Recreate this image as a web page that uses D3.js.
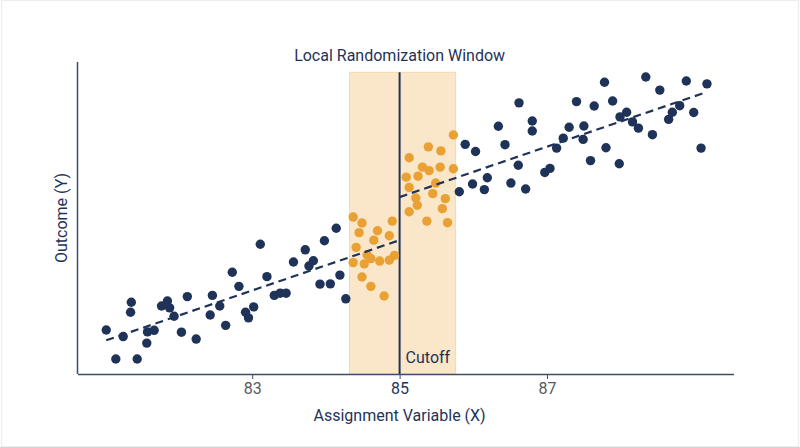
<!DOCTYPE html>
<html>
<head>
<meta charset="utf-8">
<script src="https://cdn.jsdelivr.net/npm/d3@7"></script>
<style>
  body { margin: 0; background: #fff; }
  svg { display: block; font-family: Roboto, sans-serif; }
</style>
</head>
<body>
<svg id="chart" width="800" height="447"></svg>
<script>
var width = 800
var height = 447
var margin = {left: 77.5, right: 66.5, top: 62, bottom: 73}

// points outside the window
var outsideX = [81.02, 81.15, 81.25, 81.35, 81.36, 81.44, 81.57, 81.58, 81.67, 81.77,
  81.85, 81.88, 81.94, 82.04, 82.12, 82.24, 82.43, 82.46, 82.56, 82.64,
  82.73, 82.82, 82.91, 82.95, 83.02, 83.11, 83.20, 83.30, 83.38, 83.46,
  83.56, 83.72, 83.77, 83.83, 83.92, 83.98, 84.06, 84.14, 84.19, 84.27,
  85.81, 85.89, 85.99, 86.03, 86.15, 86.19, 86.34, 86.43, 86.51, 86.61,
  86.62, 86.71, 86.80, 86.80, 86.97, 87.04, 87.13, 87.22, 87.30, 87.40,
  87.49, 87.50, 87.59, 87.64, 87.78, 87.80, 87.89, 87.99, 87.98, 88.08,
  88.16, 88.24, 88.34, 88.43, 88.53, 88.65, 88.70, 88.80, 88.89, 88.99,
  89.09, 89.17]
var outsideY = [14.1, 4.8, 12.0, 19.8, 23.0, 4.8, 9.9, 13.5, 14.0, 21.8,
  23.4, 21.2, 18.5, 13.4, 24.8, 11.2, 18.9, 25.2, 21.8, 15.6,
  32.6, 28.1, 19.8, 18.0, 21.5, 41.6, 31.2, 25.2, 25.9, 25.9,
  35.9, 39.8, 34.6, 36.3, 28.8, 42.7, 28.9, 46.7, 31.7, 24.1,
  58.4, 73.6, 60.9, 71.3, 59.1, 62.9, 79.4, 73.5, 61.2, 66.9,
  86.9, 59.3, 81.1, 77.9, 64.6, 65.9, 72.4, 75.6, 79.1, 87.3,
  75.2, 79.5, 68.4, 85.9, 93.5, 72.5, 87.5, 82.4, 67.4, 83.9,
  80.8, 78.8, 95.2, 76.7, 91.0, 81.6, 83.9, 86.0, 93.9, 83.8,
  72.4, 93.0]

// points inside the local randomization window
var windowX = [84.37, 84.49, 84.90, 84.45, 84.70, 84.65, 84.86, 84.41, 84.56, 84.93,
  84.61, 84.37, 84.52, 84.73, 84.86, 84.49, 84.61, 84.79,
  85.73, 85.39, 85.56, 85.13, 85.31, 85.40, 85.55, 85.73, 85.09, 85.25,
  85.13, 85.49, 85.45, 85.22, 85.62, 85.24, 85.58, 85.13, 85.37, 85.65]
var windowY = [50.3, 48.4, 49.0, 45.3, 45.9, 42.9, 44.3, 40.6, 38.2, 38.0,
  37.0, 35.7, 35.3, 36.2, 36.5, 31.1, 28.1, 25.0,
  76.6, 72.8, 71.5, 69.3, 66.3, 65.2, 66.3, 65.8, 63.1, 63.4,
  59.8, 61.2, 57.8, 56.4, 56.2, 54.1, 53.0, 52.0, 49.0, 48.5]

var cutoff = 85
var windowRange = [84.32, 85.76]
var windowTop = 96.7
var fitLeft = [[81.02, 10.8], [85, 42.9]]
var fitRight = [[85, 56.7], [89.17, 90.4]]
var xTicks = [83, 85, 87]

var navy = "#1f3358"
var orange = "#e9a134"

var svg = d3.select("svg#chart")

svg.append("rect")
    .attr("x", 1.5).attr("y", 0.5)
    .attr("width", width - 3).attr("height", height - 1)
    .attr("fill", "#fff")
    .attr("stroke", "#ececec")

var x = d3.scaleLinear()
    .domain([80.63, 89.53])
    .range([margin.left, width - margin.right])
var y = d3.scaleLinear()
    .domain([0, 100])
    .range([height - margin.bottom, margin.top])

// window band
svg.append("rect")
    .attr("x", x(windowRange[0]))
    .attr("y", y(windowTop))
    .attr("width", x(windowRange[1]) - x(windowRange[0]))
    .attr("height", y(0) - y(windowTop))
    .attr("fill", "#fae6c8")
    .attr("stroke", "#f6d9aa")
    .attr("stroke-width", 1)

svg.append("line")
    .attr("x1", x(cutoff)).attr("x2", x(cutoff))
    .attr("y1", y(windowTop)).attr("y2", y(0))
    .attr("stroke", navy)
    .attr("stroke-width", 2)

var outside = outsideX.map((d, i) => ({x: d, y: outsideY[i]}))
var inside = windowX.map((d, i) => ({x: d, y: windowY[i]}))

svg.append("g")
    .attr("fill", navy)
  .selectAll("circle")
  .data(outside)
  .enter()
  .append("circle")
    .attr("cx", d => x(d.x))
    .attr("cy", d => y(d.y))
    .attr("r", 4.7)

svg.append("g")
    .attr("fill", orange)
  .selectAll("circle")
  .data(inside)
  .enter()
  .append("circle")
    .attr("cx", d => x(d.x))
    .attr("cy", d => y(d.y))
    .attr("r", 4.7)

var line = d3.line()
    .x(d => x(d[0]))
    .y(d => y(d[1]))

svg.append("g")
    .attr("fill", "none")
    .attr("stroke", navy)
    .attr("stroke-width", 2.2)
    .attr("stroke-dasharray", "8,5")
  .selectAll("path")
  .data([fitLeft, fitRight])
  .enter()
  .append("path")
    .attr("d", d => line(d))

// axes
xAxis = g => g
    .attr("transform", `translate(0,${height - margin.bottom})`)
    .call(d3.axisBottom(x).tickValues(xTicks).tickSize(5).tickSizeOuter(0).tickPadding(4))
    .call(g => g.select(".domain").attr("stroke", "#3e4c68").attr("stroke-width", 1.5))
    .call(g => g.selectAll(".tick line").attr("stroke", "#3e4c68"))
    .call(g => g.selectAll(".tick text")
        .attr("font-family", "Roboto, sans-serif")
        .attr("font-size", 16)
        .attr("fill", d => d === cutoff ? navy : "#5a5a5a"))

svg.append("g").call(xAxis)

svg.append("line")
    .attr("x1", margin.left).attr("x2", margin.left)
    .attr("y1", margin.top).attr("y2", height - margin.bottom)
    .attr("stroke", "#3e4c68")
    .attr("stroke-width", 1.5)

svg.append("text")
    .attr("x", x(cutoff))
    .attr("y", 61)
    .attr("text-anchor", "middle")
    .attr("font-size", 16)
    .attr("fill", navy)
    .text("Local Randomization Window")

svg.append("text")
    .attr("x", x(cutoff) + 6)
    .attr("y", 363)
    .attr("font-size", 16)
    .attr("fill", navy)
    .text("Cutoff")

svg.append("text")
    .attr("x", x(cutoff))
    .attr("y", 421)
    .attr("text-anchor", "middle")
    .attr("font-size", 16)
    .attr("fill", navy)
    .text("Assignment Variable (X)")

svg.append("text")
    .attr("transform", `translate(67,${(margin.top + height - margin.bottom) / 2}) rotate(-90)`)
    .attr("text-anchor", "middle")
    .attr("font-size", 16)
    .attr("fill", navy)
    .text("Outcome (Y)")
</script>
</body>
</html>
